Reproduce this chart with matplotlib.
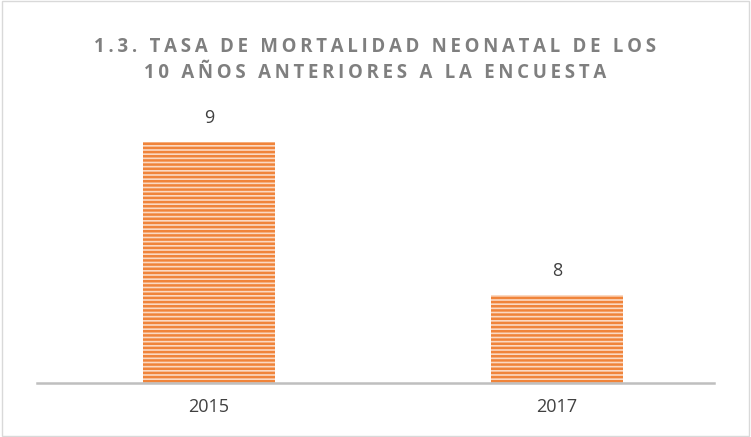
import matplotlib.pyplot as plt
from matplotlib.patches import Rectangle

years = ["2015", "2017"]
rates = [9, 8]

plt.rcParams['font.family'] = ['Open Sans', 'DejaVu Sans']
plt.rcParams['hatch.linewidth'] = 1.8

fig = plt.figure(figsize=(7.51, 4.37), dpi=100)
ax = fig.add_axes([37 / 751, 54 / 437, 677 / 751, 0.75])

x = list(range(len(years)))
ax.bar(x, rates, width=0.38, color='#fbd9c2', edgecolor='#f0843a',
       linewidth=0, hatch='----')

for xi, v in zip(x, rates):
    ax.annotate(str(v), (xi, v), xytext=(0, 11), textcoords='offset points',
                ha='center', va='bottom', fontsize=13, color='#404040')

ax.set_xlim(-0.494, 1.451)
ax.set_ylim(7.425, 9 + 0.75 * 437 / 153 - 1.575)
ax.set_xticks(x)
ax.set_xticklabels(years, fontsize=13, color='#404040')
ax.tick_params(axis='x', length=0, pad=11)
ax.set_yticks([])
for s in ['top', 'right', 'left']:
    ax.spines[s].set_visible(False)
ax.spines['bottom'].set_color('#bfbfbf')
ax.spines['bottom'].set_linewidth(1.8)

# letter-spaced title like the original
sp = '\u2009'
line1 = "1.3. TASA DE MORTALIDAD NEONATAL DE LOS"
line2 = "10 AÑOS ANTERIORES A LA ENCUESTA"
title = sp.join(line1) + "\n" + sp.join(line2)
fig.text(0.5, 1 - 59.5 / 437, title, ha='center', va='center', fontsize=13.4,
         fontweight='bold', color='#7f7f7f', linespacing=1.4)

fig.patches.append(Rectangle((0.002, 0.003), 0.996, 0.994, transform=fig.transFigure,
                             fill=False, edgecolor='#d9d9d9', linewidth=1))

fig.savefig('out.png', dpi=100)
